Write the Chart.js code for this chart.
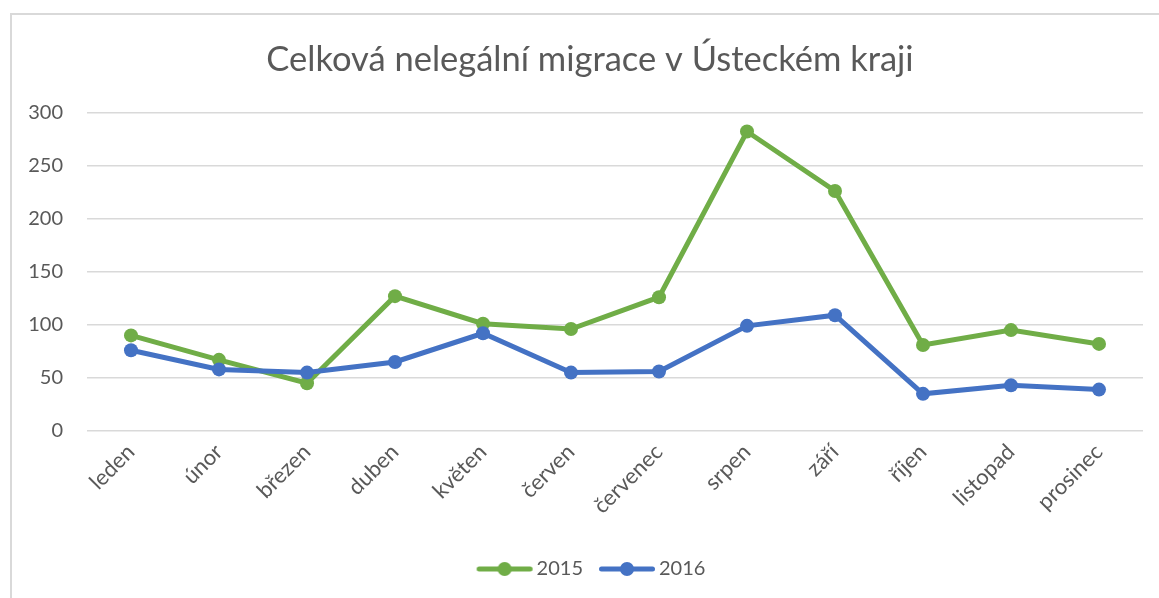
<!DOCTYPE html>
<html>
<head>
<meta charset="utf-8">
<script src="https://cdn.jsdelivr.net/npm/chart.js@4/dist/chart.umd.min.js"></script>
<style>
  html, body { margin: 0; padding: 0; background: #fff; }
  #wrap { position: relative; width: 1159px; height: 598px; overflow: hidden; }
  #frame { position: absolute; left: 10px; top: 13px; width: 1200px; height: 700px;
           border-left: 2px solid #d9d9d9; border-top: 2px solid #d9d9d9; }
  canvas { position: absolute; left: 0; top: 0; }
</style>
</head>
<body>
<div id="wrap">
  <div id="frame"></div>
  <canvas id="c" width="1159" height="598"></canvas>
</div>
<script>
const chartTitle = 'Celková nelegální migrace v Ústeckém kraji';
const months = ['leden', 'únor', 'březen', 'duben', 'květen', 'červen', 'červenec', 'srpen', 'září', 'říjen', 'listopad', 'prosinec'];
const series2015 = [90, 67, 45, 127, 101, 96, 126, 282, 226, 81, 95, 82];
const series2016 = [76, 58, 55, 65, 92, 55, 56, 99, 109, 35, 43, 39];
const yTicks = [0, 50, 100, 150, 200, 250, 300];

const GREEN = '#70ad47';
const BLUE = '#4472c4';
const TEXT = '#595959';
const FONT = 'Lato, Carlito, "Open Sans", sans-serif';

function legendIcon(color) {
  // icon image is centred on the legend box; content drawn offset to the right
  const c = document.createElement('canvas');
  c.width = 72; c.height = 16;
  const x = c.getContext('2d');
  x.strokeStyle = color; x.lineWidth = 5; x.lineCap = 'round';
  x.beginPath(); x.moveTo(16.5, 8); x.lineTo(67.5, 8); x.stroke();
  x.fillStyle = color;
  x.beginPath(); x.arc(42, 8, 7, 0, Math.PI * 2); x.fill();
  return c;
}

// shift the title/legend centring boxes to match the original's placement
const boxShift = {
  id: 'boxShift',
  afterLayout(chart) {
    if (chart.legend) chart.legend.left = 33;
    if (chart.titleBlock) chart.titleBlock.left = 37;
  }
};

new Chart(document.getElementById('c'), {
  type: 'line',
  data: {
    labels: months,
    datasets: [
      { label: '2016', data: series2016, borderColor: BLUE, backgroundColor: BLUE,
        borderWidth: 5, pointRadius: 7, pointBorderWidth: 0, pointBackgroundColor: BLUE,
        pointStyle: 'circle', tension: 0, fill: false, legendIcon: legendIcon(BLUE) },
      { label: '2015', data: series2015, borderColor: GREEN, backgroundColor: GREEN,
        borderWidth: 5, pointRadius: 7, pointBorderWidth: 0, pointBackgroundColor: GREEN,
        pointStyle: 'circle', tension: 0, fill: false, legendIcon: legendIcon(GREEN) }
    ]
  },
  plugins: [boxShift],
  options: {
    responsive: false,
    animation: false,
    devicePixelRatio: 1,
    layout: { padding: { left: 0, right: 16, top: 0, bottom: 9 } },
    plugins: {
      tooltip: { enabled: false },
      title: {
        display: true,
        text: chartTitle,
        color: TEXT,
        font: { family: FONT, size: 34.5, weight: 'normal' },
        padding: { top: 39, bottom: 32 }
      },
      legend: {
        position: 'bottom',
        reverse: true,
        labels: {
          color: TEXT,
          font: { family: FONT, size: 20 },
          usePointStyle: true,
          pointStyleWidth: 56,
          padding: 10,
          generateLabels(chart) {
            return chart.data.datasets.map((ds, i) => ({
              text: ds.label,
              fillStyle: ds.borderColor,
              strokeStyle: ds.borderColor,
              lineWidth: 0,
              pointStyle: ds.legendIcon,
              fontColor: TEXT,
              datasetIndex: i,
              hidden: false
            }));
          }
        }
      }
    },
    scales: {
      x: {
        offset: true,
        grid: { display: false, drawTicks: false },
        border: { display: false },
        ticks: { color: TEXT, font: { family: FONT, size: 22 }, minRotation: 45, maxRotation: 45, padding: 8 },
        afterFit(scale) { scale.height = 118; }
      },
      y: {
        min: 0, max: 300,
        afterBuildTicks(scale) { scale.ticks = yTicks.map(v => ({ value: v })); },
        grid: { color: '#d9d9d9', lineWidth: 1.5, drawTicks: false },
        border: { display: false },
        ticks: { color: TEXT, font: { family: FONT, size: 20 }, padding: 24 },
        afterFit(scale) { scale.width = 87; }
      }
    }
  }
});
</script>
</body>
</html>
